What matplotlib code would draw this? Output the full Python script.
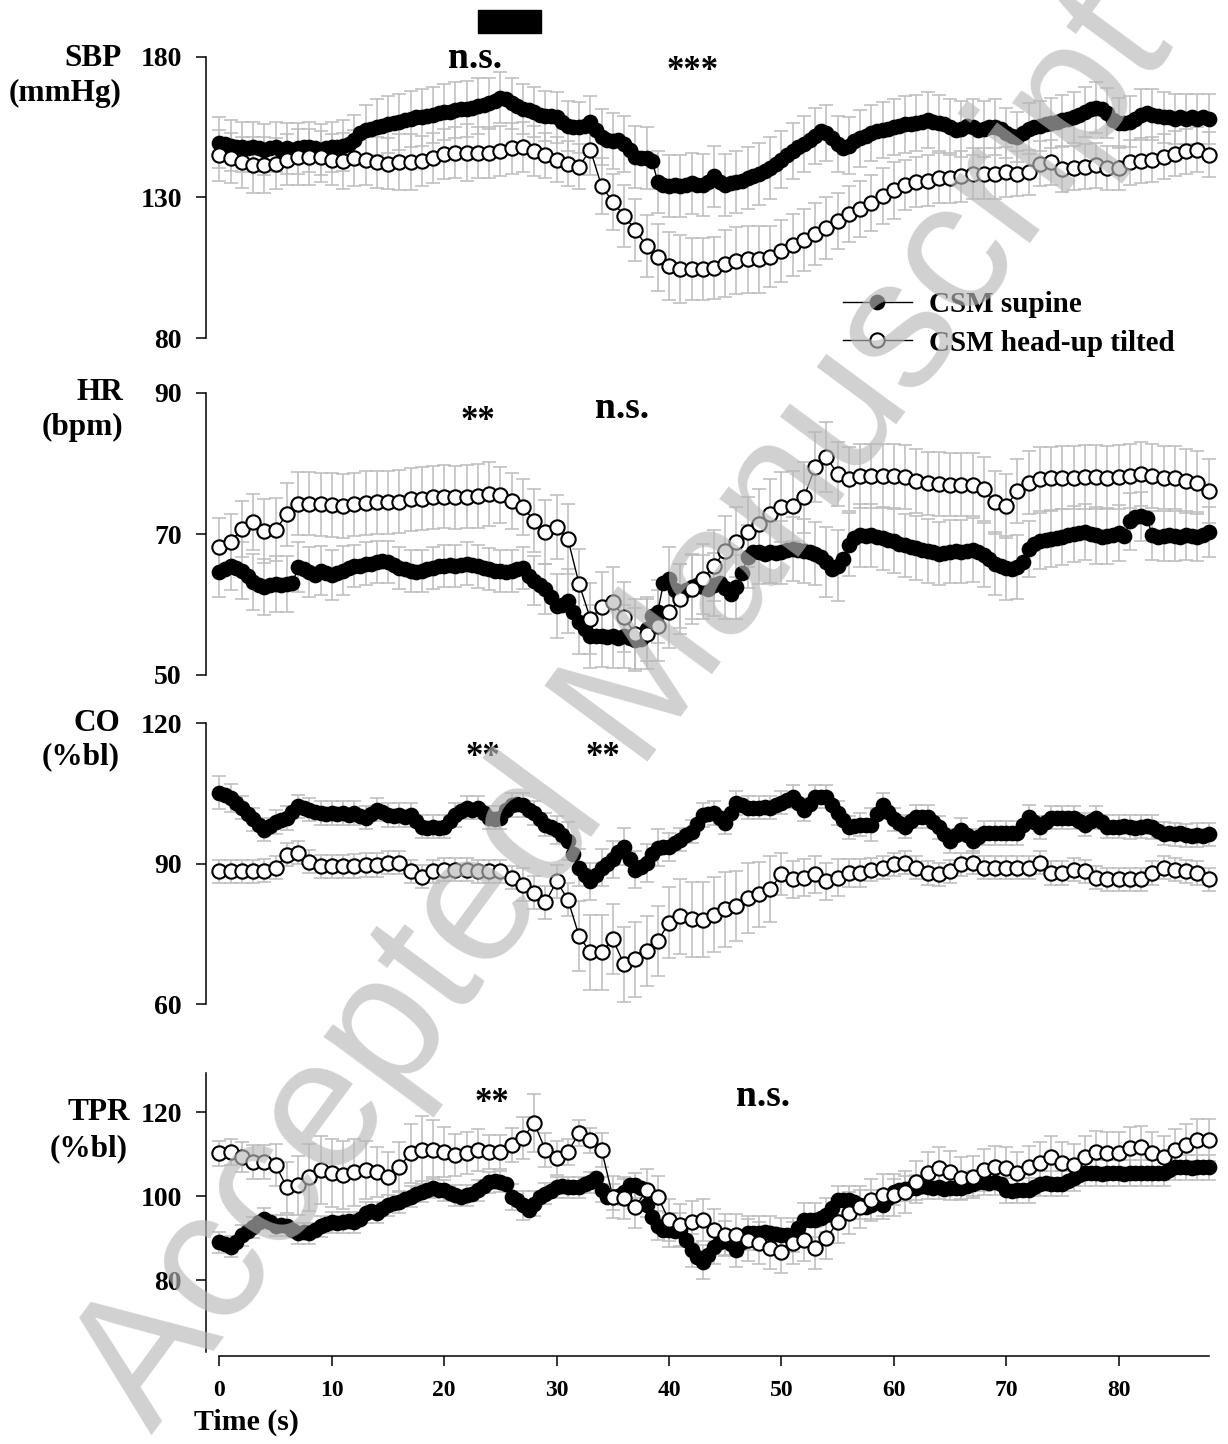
import numpy as np
import matplotlib.pyplot as plt
from matplotlib.patches import Rectangle

plt.rcParams['font.family'] = ['Liberation Serif', 'DejaVu Serif']
plt.rcParams['font.weight'] = 'bold'

# time bases: supine sampled every 0.5 s, tilted every 1 s
t_open = np.arange(0, 89, 1.0)
t_sup = np.arange(0, 88.5, 0.5)

# ---- SBP (mmHg) ----
sbp_sup = [149.5, 149, 148.5, 148, 148, 147.5, 148, 147.5, 147, 147.5,
           148, 147, 147.5, 147, 147.5, 148, 148, 147.5, 147, 147.5,
           148, 148, 148.5, 149, 150.5, 153, 154, 154.5, 155, 155.5,
           156, 156.5, 157, 157.5, 158, 158.5, 158.5, 159, 159.5, 160,
           160.5, 160.5, 161, 161.5, 161.5, 162, 162.5, 163, 163.5, 164.5,
           165.5, 165, 163.5, 162.5, 161.5, 161, 160.5, 159.5, 159, 159,
           158.5, 157, 155.5, 155, 155, 155.5, 157, 154, 151.5, 150.5,
           150, 150.5, 149, 147, 144.5, 144, 144, 143, 135.5, 134.5,
           134, 134.5, 134, 134.5, 135, 134.5, 134.5, 135.5, 137.5, 135.5,
           134.5, 135, 135.5, 136, 137, 137.5, 138.5, 139.5, 140.5, 142,
           143.5, 145, 146.5, 148, 149, 150.5, 152, 153.5, 153, 151,
           149, 147.5, 148.5, 150, 151, 152, 153, 153.5, 154, 154.5,
           155, 155.5, 156, 156, 156.5, 157, 157.5, 157, 156.5, 156,
           155, 154, 154.5, 155.5, 155, 154, 154.5, 155, 155, 154.5,
           153, 152, 151.5, 153, 154.5, 155, 155.5, 156, 156.5, 157,
           157.5, 158, 158.5, 159.5, 160.5, 161.5, 162, 161.5, 160, 157.5,
           156.5, 156.5, 157, 158, 159.5, 160, 159.5, 159, 158.5, 158.5,
           158, 158.5, 158, 158.5, 158, 158.5, 158]
sbp_open = [145, 144, 142.5, 141.5, 141.5, 142, 143.5, 144.5, 144.5, 144.5,
            143.5, 143, 144, 143.5, 142.5, 142, 142.5, 142.5, 143, 144,
            145.5, 146, 146, 146, 146, 146.5, 147.5, 148, 146.5, 145,
            143.5, 142, 141, 147, 134, 128.5, 123.5, 118.5, 112.7, 108.7,
            105.6, 104.5, 104.5, 104.5, 105, 106.5, 107.5, 108, 108, 109,
            111, 113, 115, 117, 119, 121.5, 124, 126, 128, 130.5,
            132.5, 134.5, 135.5, 136, 137, 137, 137.5, 138.5, 138.5, 138.5,
            139, 138.5, 139, 142, 142.5, 140, 140.5, 141, 141.5, 140.5,
            140.5, 142.5, 143, 143.5, 144.5, 145.5, 146.5, 147, 145.3]
sbp_sup_se = [9, 9, 9, 9, 9, 9, 9, 9, 9, 9, 9, 9, 9, 9, 10, 10, 10, 10, 10, 10,
              10, 10, 10, 10, 9, 9, 9, 9, 9, 9, 9, 9, 9, 9, 10, 10, 10, 11, 11, 11,
              11, 11, 11, 11, 11, 11, 11, 11, 11, 11, 10, 10, 10, 10, 10, 10, 10, 10, 10, 10,
              10, 10, 10, 10, 10, 10, 10, 10, 10, 10, 9, 9, 9, 9, 9, 9, 9, 9, 9, 9,
              9, 9, 9, 9, 9, 9, 9, 9, 9]
sbp_open_se = [9, 9, 9, 10, 10, 9, 9, 10, 10, 9, 9, 10, 10, 9, 9, 9, 10, 10, 9, 9,
               9, 9, 10, 9, 9, 9, 9, 9, 9, 8, 8, 8, 8, 9, 10, 10, 11, 11, 11, 12,
               12, 12, 11, 11, 11, 12, 12, 12, 12, 11, 11, 11, 11, 11, 11, 10, 10, 10, 10, 10,
               10, 9, 9, 9, 9, 9, 9, 9, 9, 9, 9, 8, 8, 8, 8, 8, 8, 8, 8, 8,
               8, 8, 8, 8, 8, 8, 8, 8, 8]

# ---- HR (bpm) ----
hr_sup = [64.6, 65, 65.5, 65.2, 64.8, 64, 63.2, 62.8, 62.5, 62.8,
          62.9, 62.8, 62.9, 63, 65.3, 65, 64.6, 64.2, 64.8, 64.5,
          64.2, 64.5, 64.8, 65.2, 65.5, 65.5, 65.8, 65.8, 66, 66.2,
          66, 65.6, 65.2, 65, 64.8, 64.6, 64.8, 65, 65.2, 65.4,
          65.5, 65.6, 65.5, 65.6, 65.8, 65.6, 65.4, 65.2, 65, 64.8,
          64.8, 64.6, 64.8, 65, 65.2, 64, 63.4, 62.8, 62.2, 61,
          59.8, 60, 60.5, 59, 57.5, 56.5, 55.5, 55.5, 55.6, 55.4,
          55.5, 55.3, 55.5, 55.2, 55, 55.1, 56.5, 58.4, 59, 63,
          63.6, 62, 61.2, 62, 62.5, 62.8, 62.5, 62.2, 62.8, 63,
          62.4, 61.5, 62.5, 64.5, 66.8, 67.5, 67.4, 67.2, 67.5, 67.3,
          67.4, 67.8, 67.9, 67.8, 67.6, 67.4, 67.2, 66.8, 66, 65,
          65.5, 66.4, 68.5, 69.5, 69.8, 69.7, 69.8, 69.6, 69.4, 69.2,
          69, 68.6, 68.4, 68.2, 68, 67.8, 67.6, 67.4, 67.2, 67.3,
          67.5, 67.6, 67.5, 67.6, 67.7, 67.4, 67, 66.5, 65.8, 65.4,
          65.2, 65, 65.3, 66, 67.9, 68.6, 69, 69.2, 69.3, 69.5,
          69.6, 69.8, 70, 70.2, 70.3, 70, 69.8, 69.6, 69.7, 69.9,
          70.1, 69.7, 71.8, 72.4, 72.5, 72.3, 69.8, 69.6, 69.7, 69.8,
          69.7, 69.6, 69.8, 69.7, 69.6, 69.9, 70.3]
hr_open = [68.2, 68.9, 70.7, 71.7, 70.4, 70.6, 72.8, 74.3, 74.3, 74.2,
           74.1, 74, 74.2, 74.4, 74.5, 74.5, 74.6, 74.9, 75, 75.2,
           75.3, 75.2, 75.3, 75.4, 75.7, 75.5, 74.7, 73.8, 71.9, 70.3,
           71, 69.3, 62.9, 58, 59.6, 60.3, 58.2, 55.8, 55.8, 57,
           58.9, 60.8, 62.2, 63.6, 65.5, 67.6, 68.9, 70.3, 71.4, 72.8,
           73.8, 74, 75.2, 79.5, 80.9, 78.5, 77.8, 78.2, 78.2, 78.2,
           78.2, 78.1, 77.5, 77.2, 77.1, 77, 77, 77, 76.4, 74.5,
           74, 76.1, 77.3, 77.8, 77.9, 78, 78, 78.1, 78.1, 78,
           78.1, 78.2, 78.5, 78.2, 78, 78, 77.5, 77.3, 76.1]
hr_sup_se = [3.5, 3.5, 4, 4, 4, 4, 4, 3.5, 3.5, 3.5, 3.5, 3.5, 3, 3, 3, 3, 3, 3, 3, 3,
             3, 3, 3, 3, 3, 3, 3, 3, 3.5, 3.5, 4.5, 4.5, 4.5, 4.5, 4.5, 4.5, 4.5, 4.5, 4.5, 4.5,
             4.5, 4.5, 4.5, 4.5, 4.5, 4.5, 4.5, 4.5, 4.5, 4.5, 4.5, 4.5, 4.5, 4.5, 5, 5, 4.5, 4.5, 4.5, 4.5,
             4.5, 4.5, 4.5, 4.5, 4.5, 4.5, 4.5, 4.5, 4.5, 4.5, 4.5, 4.5, 4, 4, 4, 4, 4, 4, 4, 4,
             4, 4, 3.5, 3.5, 3.5, 3.5, 3.5, 3.5, 3.5]
hr_open_se = [4, 4, 4, 4, 4.5, 4.5, 4.5, 4.5, 4.5, 4.5, 4.5, 4.5, 4.5, 4.5, 4.5, 4.5, 4.5, 4.5, 4.5, 4.5,
              4.5, 4.5, 4.5, 4.5, 4.5, 4, 4, 4, 4.5, 4.5, 4.5, 5, 5, 5, 5, 5, 5, 5, 5, 5,
              5, 5, 5, 5, 5, 5, 5, 5, 5, 5, 5, 5, 5, 5, 5, 4.5, 4.5, 4.5, 4.5, 4.5,
              4.5, 4.5, 4.5, 4.5, 4.5, 4.5, 4.5, 4.5, 4.5, 4.5, 4.5, 4.5, 4.5, 4.5, 4.5, 4.5, 4.5, 4.5, 4.5, 4.5,
              4.5, 4.5, 4.5, 4.5, 4.5, 4.5, 4.5, 4.5, 4.5]

# ---- CO (%bl) ----
co_sup = [105.1, 104.6, 104, 103, 101.9, 100.5, 99.4, 98.3, 97.2, 98,
          98.9, 99.3, 99.7, 101, 102.2, 101.8, 101.5, 101, 100.8, 100.6,
          100.8, 100.5, 100.8, 100.3, 100.8, 100.2, 99.8, 100.6, 101.5, 101,
          100.4, 100.2, 100.4, 100, 100.4, 99, 97.9, 97.6, 97.9, 97.6,
          97.9, 99, 100.4, 101.2, 101.9, 101.5, 101.9, 100.8, 99.8, 99.5,
          99.8, 101.5, 102.5, 102.8, 102.5, 101.5, 100.8, 99.5, 98.3, 97.8,
          97.2, 96, 94.8, 92, 89.1, 87.5, 86.2, 87.5, 89.1, 90,
          90.9, 92.5, 93.6, 91, 88.7, 89.3, 90.1, 92, 93.4, 93.5,
          93.6, 94.3, 95.1, 96, 96.8, 98.5, 100.4, 100.6, 100.8, 99.8,
          98.7, 100.8, 102.9, 102.4, 101.9, 101.9, 101.9, 102, 101.9, 102.4,
          103, 103.6, 104.3, 103, 101.5, 102.8, 104.3, 104.3, 104.3, 102.5,
          100.8, 99.2, 97.7, 98, 98.3, 98.3, 98.3, 100.5, 102.5, 101,
          99.4, 98.6, 97.9, 99, 100, 100, 100, 98.9, 97.7, 96.2,
          94.8, 96, 97.2, 96, 94.8, 95.6, 96.5, 96.5, 96.5, 96.5,
          96.5, 96.5, 96.5, 98.2, 100, 98.8, 97.7, 98.8, 99.8, 99.8,
          99.8, 99.8, 99.8, 99, 98.3, 99, 99.8, 98.8, 97.9, 97.9,
          97.9, 98.1, 97.8, 97.6, 97.9, 98.1, 97.8, 97, 96.4, 96.6,
          96.2, 96.5, 96, 95.8, 96.1, 95.9, 96.2]
co_open = [88.3, 88.3, 88.3, 88.3, 88.5, 89.1, 91.9, 92.3, 90.4, 89.4,
           89.4, 89.4, 89.5, 89.7, 89.7, 90.2, 90.2, 88.3, 87.2, 88.3,
           88.7, 88.7, 88.7, 88.3, 88.3, 88.3, 87, 85.5, 83.8, 81.7,
           86.2, 82.3, 74.5, 71, 71, 73.8, 68.5, 69.6, 71.3, 73.4,
           77.4, 78.7, 78.1, 78, 79.1, 80.2, 80.9, 82.7, 83.4, 84.5,
           87.7, 86.6, 87, 87.7, 86.2, 87, 88, 88, 88.7, 89.1,
           89.8, 90.2, 89.1, 88, 87.7, 88.3, 89.8, 90.2, 89.1, 89.1,
           89.1, 89.1, 89.1, 90.2, 88, 88, 88.7, 88.3, 87, 86.6,
           86.6, 86.6, 86.6, 88, 89.1, 88.7, 88.3, 88, 86.6]
co_sup_se = [3.5, 3, 2.5, 2.5, 2.5, 2.5, 2.5, 2.5, 2.5, 2.5, 2.5, 2.5, 2.5, 2.5, 2.5, 2.5, 2.5, 2.5, 2.5, 2.5,
             2.5, 2.5, 2.5, 2.5, 2.5, 2.5, 2.5, 2.5, 2.5, 2.5, 3, 4, 4, 4, 4, 4, 4, 4, 4, 4,
             3, 2.5, 2.5, 2.5, 2.5, 2.5, 2.5, 2.5, 2.5, 2.5, 2.5, 2.5, 2.5, 2.5, 2.5, 2.5, 2.5, 2.5, 3.5, 2.5,
             2.5, 2.5, 2.5, 2.5, 2.5, 2.5, 2.5, 2.5, 2.5, 2.5, 2.5, 2.5, 2.5, 2.5, 2.5, 2.5, 2.5, 2.5, 2.5, 2.5,
             2.5, 2.5, 2.5, 2.5, 2.5, 2.5, 2.5, 2.5, 2.5]
co_open_se = [2.5, 2.5, 2.5, 2.5, 2.5, 2.5, 2.5, 2.5, 2.5, 2.5, 2.5, 2.5, 2.5, 2.5, 2.5, 2.5, 2.5, 2.5, 2.5, 2.5,
              2.5, 2.5, 2.5, 2.5, 2.5, 2.5, 2.5, 3.5, 3.5, 3.5, 3.5, 3.5, 7.5, 8, 8, 7.5, 8, 8, 7.5, 7.5,
              7.5, 8, 8, 8, 8, 8, 7.5, 7.5, 7, 7, 4.5, 4, 4, 4, 4, 4, 3, 3, 2.5, 2.5,
              2.5, 2.5, 2.5, 2.5, 2.5, 2.5, 2.5, 2.5, 2.5, 2.5, 2.5, 2.5, 2.5, 2.5, 2.5, 2.5, 2.5, 2.5, 2.5, 2.5,
              2.5, 2.5, 2.5, 2.5, 2.5, 2.5, 2.5, 2.5, 2.5]

# ---- TPR (%bl) ----
tpr_sup = [89, 88.6, 87.9, 89, 90.7, 91.8, 92.6, 93.8, 94.6, 93.8,
           93, 93.2, 93, 92, 91.2, 91.4, 91.2, 92, 92.8, 93.4,
           93.8, 93.5, 93.8, 94, 93.8, 94.5, 96, 96.5, 96, 97,
           97.8, 98.3, 98.6, 99.2, 99.8, 100.4, 101, 101.4, 102, 101.4,
           101.4, 100.8, 100.2, 99.8, 100.2, 100.6, 101.4, 102.4, 103.3, 103.6,
           103.4, 103, 99.8, 99, 97.8, 96.7, 98.2, 99.8, 100.6, 101.2,
           102.1, 102.4, 102.1, 102.2, 102.1, 102.8, 103.3, 104.3, 101.5, 99.8,
           99.8, 100, 101, 102.6, 102.6, 102, 98, 95, 93, 91.9,
           91.9, 91.6, 91.9, 89.5, 87.1, 85.5, 84.3, 86, 87.9, 89,
           90, 88.5, 87.1, 89, 91.2, 91.2, 91.2, 91.4, 91.2, 91,
           90.7, 90.7, 90.7, 92.5, 94.3, 94.3, 94.3, 94.8, 95.5, 97.2,
           99, 99, 99, 98.5, 98, 97.5, 98, 98.5, 98, 99.5,
           101, 101.5, 101.8, 102, 102, 102.3, 102.2, 102, 102.2, 101.8,
           102, 102, 102, 102.5, 103, 103.3, 103.3, 103.2, 103.3, 103,
           101.4, 101.2, 101.4, 101.5, 101.4, 102.2, 103, 103.2, 103, 103,
           103, 103.6, 104.3, 105, 105.5, 105.5, 105.5, 105.3, 105.5, 105.5,
           105.5, 105.3, 105.5, 105.5, 105.5, 105.6, 105.5, 105.5, 105.5, 106.2,
           106.9, 106.9, 106.9, 106.8, 106.9, 106.9, 106.9]
tpr_open = [110.2, 110.5, 109.3, 108.1, 108.1, 107.4, 102.1, 102.6, 104.5, 106.2,
            105.5, 105, 105.7, 106.2, 105.7, 104.5, 106.9, 110.2, 111, 111,
            110.5, 109.8, 110.2, 111, 110.5, 110.5, 112.1, 113.8, 117.4, 111,
            109, 110.5, 115, 113.3, 111, 99.8, 99.5, 97.4, 101.4, 99.8,
            94.3, 93.1, 93.8, 94.3, 91.9, 90.7, 90.7, 89.5, 88.8, 87.6,
            86.7, 88.8, 89.5, 87.6, 90, 93.8, 95.9, 97.4, 99, 100.2,
            100.2, 101, 103.3, 105.5, 106.7, 105.7, 104.3, 104.5, 106.2, 106.9,
            106.7, 105.5, 106.9, 107.9, 109.3, 107.9, 107.4, 109.3, 110.5, 110.2,
            110.2, 111.4, 111.7, 110.2, 109.3, 111, 112.1, 113.3, 113.3]
tpr_sup_se = [2.5, 2.5, 2.5, 2.5, 2.5, 2.5, 2.5, 2.5, 2.5, 2.5, 2.5, 2.5, 2.5, 2.5, 2.5, 2.5, 2.5, 2.5, 2.5, 2.5,
              2.5, 2.5, 2.5, 2.5, 2.5, 2.5, 3, 3.5, 3, 2.5, 2.5, 2.5, 2.5, 2.5, 3, 3, 3, 3, 3, 3.5,
              4, 4, 4, 4, 4, 4, 4, 4, 4, 4, 4, 4, 4, 4, 4, 3.5, 3.5, 3.5, 3.5, 3.5,
              3, 3, 3, 3, 3, 3, 3, 3, 3, 3, 3, 3, 3, 3, 3, 3, 3, 3, 3, 3,
              3, 3, 3, 3, 3, 3, 3, 3, 3]
tpr_open_se = [3, 3, 3.5, 4, 4, 5, 6, 7, 8, 8, 8, 8, 8, 7, 6, 6, 6, 7, 8, 7,
               6, 5, 5, 5, 4, 4, 4, 5, 7, 4, 4, 3, 3, 3, 4, 5, 5, 5, 5, 5,
               5, 5, 5, 5, 5, 5, 5, 5, 5, 5, 5, 5, 5, 5, 5, 5, 5, 5, 5, 5,
               5, 5, 5, 5, 5, 5, 5, 5, 5, 5, 5, 5, 5, 5, 5, 5, 5, 5, 5, 5,
               5, 5, 5, 5, 5, 5, 5, 5, 5]

W, H = 1228, 1444
fig = plt.figure(figsize=(W / 100, H / 100), dpi=100)

X0 = 205.5          # pixel column of the y spines
PX_PER_S = 11.24
XLIM = (-1.24, 89)


def rect(top, bottom):
    w = (XLIM[1] - XLIM[0]) * PX_PER_S
    return [X0 / W, 1 - bottom / H, w / W, (bottom - top) / H]


def ftext(x, y, s, **kw):
    fig.text(x / W, 1 - y / H, s, **kw)


def panel(r, ylim, yticks, sup, sup_se, opn, opn_se):
    ax = fig.add_axes(r)
    eb = dict(fmt='none', ecolor='#bcbcbc', elinewidth=1.1, capsize=5, capthick=1.1, zorder=1)
    ax.errorbar(t_sup[::2], np.asarray(sup)[::2], yerr=sup_se, **eb)
    ax.errorbar(t_open, opn, yerr=opn_se, **eb)
    l1, = ax.plot(t_sup, sup, '-o', color='black', lw=1, ms=10.3, mfc='black', mec='black',
                  zorder=3, label='CSM supine')
    l2, = ax.plot(t_open, opn, '-o', color='black', lw=1, ms=10.3, mfc='white', mec='black',
                  mew=1.5, zorder=4, label='CSM head-up tilted')
    ax.set_xlim(*XLIM)
    ax.set_ylim(*ylim)
    ax.set_yticks(yticks)
    for s in ['top', 'right', 'bottom']:
        ax.spines[s].set_visible(False)
    ax.spines['left'].set_linewidth(1.1)
    ax.tick_params(axis='y', direction='out', length=7, width=1.1, pad=10, labelsize=20)
    ax.tick_params(axis='x', bottom=False, labelbottom=False)
    return ax, l1, l2


ax1, h1, h2 = panel(rect(57, 338), (80, 180), [80, 130, 180], sbp_sup, sbp_sup_se, sbp_open, sbp_open_se)
ax2, _, _ = panel(rect(393, 675), (50, 90), [50, 70, 90], hr_sup, hr_sup_se, hr_open, hr_open_se)
ax3, _, _ = panel(rect(723, 1004), (60, 120), [60, 90, 120], co_sup, co_sup_se, co_open, co_open_se)
ax4, _, _ = panel(rect(1073, 1352), (62.9, 129.3), [80, 100, 120], tpr_sup, tpr_sup_se, tpr_open, tpr_open_se)

# bottom time axis, offset below the TPR panel
ax4.spines['bottom'].set_visible(True)
ax4.spines['bottom'].set_position(('outward', 3))
ax4.spines['bottom'].set_bounds(0, 88)
ax4.spines['bottom'].set_linewidth(1.1)
ax4.set_xticks(range(0, 90, 10))
ax4.tick_params(axis='x', bottom=True, labelbottom=True, direction='out', length=7, width=1.1,
                pad=10, labelsize=17)

# stimulus bar above SBP
ax1.add_patch(Rectangle((23, 188.5), 5.6, 8.2, color='black', clip_on=False))

# y labels
lab = dict(fontsize=22.5, ha='right', va='center')
ftext(122, 58, 'SBP', **lab)
ftext(122, 93, '(mmHg)', **lab)
ftext(123, 393, 'HR', **lab)
ftext(123, 427, '(bpm)', **lab)
ftext(120, 723, 'CO', **lab)
ftext(120, 757, '(%bl)', **lab)
ftext(130, 1113, 'TPR', **lab)
ftext(128, 1149, '(%bl)', **lab)
ftext(194, 1422, 'Time (s)', fontsize=21.5, ha='left', va='center')

# significance marks
ns = dict(fontsize=27, ha='center', va='center')
st = dict(fontsize=25, ha='center', va='center')
ftext(475, 58, 'n.s.', **ns)
ftext(693, 72, '***', **st)
ftext(478, 422, '**', **st)
ftext(622, 408, 'n.s.', **ns)
ftext(483, 758, '**', **st)
ftext(603, 758, '**', **st)
ftext(492, 1103, '**', **st)
ftext(763, 1097, 'n.s.', **ns)

fig.legend([h1, h2], ['CSM supine', 'CSM head-up tilted'], loc='upper left',
           bbox_to_anchor=(843 / W, 1 - 291 / H), frameon=False, fontsize=21,
           handlelength=2.35, handletextpad=0.6, labelspacing=0.4, borderpad=0,
           borderaxespad=0, numpoints=1)

# watermark
fig.text(625 / W, 1 - 712 / H, 'Accepted Manuscript', rotation=53.6, fontsize=133,
         family='Liberation Sans', weight='normal', color=(0.72, 0.72, 0.72), alpha=0.65,
         ha='center', va='center', rotation_mode='anchor', zorder=100)

fig.savefig('out.png', dpi=100)
